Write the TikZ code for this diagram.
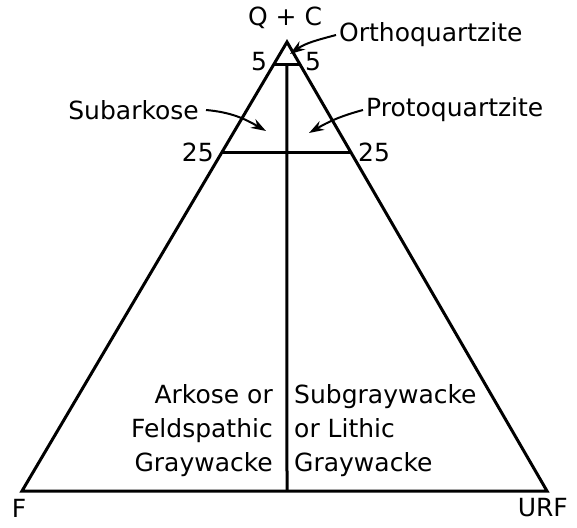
\documentclass[tikz,border=0pt]{standalone}
\usepackage{fontspec}
\setmainfont{DejaVu Sans}
\usetikzlibrary{calc,arrows.meta}

\begin{document}
\begin{tikzpicture}[x=1pt, y=-1pt, >={Stealth[length=15pt,width=10pt]},
    side/.style={line width=3pt, line join=miter},
    pointer/.style={->, line width=2pt},
    lbl/.style={inner sep=0pt, font=\fontsize{25}{34}\selectfont}]
    \useasboundingbox (0,0) rectangle (577,527);
    % corners of the diagram
    \coordinate (QC) at (287,42);
    \coordinate (F) at (22,491);
    \coordinate (URF) at (547,491);
    \draw[side] (QC) -- (F) -- (URF) -- cycle;
    \coordinate (t5l) at ($(QC)!0.05!(F)$);
    \coordinate (t5r) at ($(QC)!0.05!(URF)$);
    \coordinate (t25l) at ($(QC)!0.245!(F)$);
    \coordinate (t25r) at ($(QC)!0.245!(URF)$);
    \coordinate (mid) at (287,491);
    \draw[side] (t5l) -- (t5r);
    \draw[side] (t25l) -- (t25r);
    \draw[side] ($(t5l)!0.5!(t5r)$) -- (mid);
    % corner and tick labels
    \node[lbl] (qclbl) at (285,18) {Q + C};
    \node[lbl] (flbl) at (19,508) {F};
    \node[lbl, anchor=east] (urflbl) at (568,508) {URF};
    \node[lbl] (fivel) at (259,62) {5};
    \node[lbl] (fiver) at (313,62) {5};
    \node[lbl, anchor=east] (twfl) at (214,152) {25};
    \node[lbl, anchor=west] (twfr) at (358,152) {25};
    % field names
    \node[lbl, anchor=west] (ortho) at (339,35) {Orthoquartzite};
    \node[lbl, anchor=east] (subark) at (199,110) {Subarkose};
    \node[lbl, anchor=west] (proto) at (366,110) {Protoquartzite};
    \node[lbl, anchor=east, align=right] (arkose) at (273,431)
        {Arkose or\\Feldspathic\\Graywacke};
    \node[lbl, anchor=west, align=left] (subgw) at (294,431)
        {Subgraywacke\\or Lithic\\Graywacke};
    % arrows into the fields
    \coordinate (orthotip) at (290,54);
    \coordinate (subarktip) at (266,131);
    \coordinate (prototip) at (309,133);
    \draw[pointer] ([xshift=-3pt]ortho.west) to[out=195,in=35] (orthotip);
    \draw[pointer] ([xshift=7pt]subark.east) to[out=-5,in=150] (subarktip);
    \draw[pointer] ([xshift=-3pt]proto.west) to[out=195,in=30] (prototip);
\end{tikzpicture}
\end{document}
